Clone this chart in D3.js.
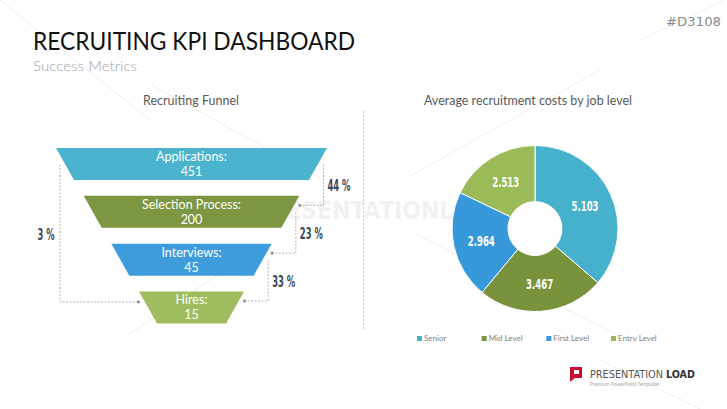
<!DOCTYPE html>
<html><head><meta charset="utf-8">
<script src="https://cdn.jsdelivr.net/npm/d3@7"></script>
<style>body{margin:0;background:#fff}svg{display:block}</style>
</head><body>
<script>
// ---- data ----
const stages = ["Applications:", "Selection Process:", "Interviews:", "Hires:"];
const stageValues = [451, 200, 45, 15];
const stageColors = ["#46B1CC", "#78933B", "#3799DA", "#9BBB59"];
const stepRates = ["44 %", "23 %", "33 %"];
const overallRate = "3 %";
const levels = ["Senior", "Mid Level", "First Level", "Entry Level"];
const costs = [5.103, 3.467, 2.964, 2.513];
const costLabels = ["5.103", "3.467", "2.964", "2.513"];
const levelColors = ["#46B1CC", "#78933B", "#3799DA", "#9BBB59"];

const W = 727, H = 409;
const svg = d3.select("body").append("svg").attr("width", W).attr("height", H);
const cond = "'DejaVu Sans Condensed','Liberation Sans Narrow',sans-serif";
const body = "Lato,'Open Sans',sans-serif";

// faint watermark lines
const wm = svg.append("g").attr("stroke", "#eeeeee").attr("stroke-width", 1);
[[0,0,150,120],[150,84,320,178],[410,176,600,70],[415,234,620,336],[128,335,225,270],[640,40,725,0],[600,360,700,409]]
  .forEach(l => wm.append("line").attr("x1",l[0]).attr("y1",l[1]).attr("x2",l[2]).attr("y2",l[3]));

// header
svg.append("text").attr("x", 33).attr("y", 50).attr("font-family", body).attr("font-size", 25)
  .attr("fill", "#111").attr("textLength", 322).attr("lengthAdjust", "spacingAndGlyphs")
  .text("RECRUITING KPI DASHBOARD");
svg.append("text").attr("x", 33).attr("y", 71).attr("font-family", body).attr("font-size", 14).attr("font-weight", 300)
  .attr("fill", "#a0a0a0").attr("textLength", 104).attr("lengthAdjust", "spacingAndGlyphs").text("Success Metrics");
svg.append("text").attr("x", 721).attr("y", 26).attr("text-anchor", "end").attr("font-family", cond)
  .attr("font-size", 13).attr("fill", "#8a8a8a").attr("textLength", 55).attr("lengthAdjust", "spacingAndGlyphs").text("#D3108");

// section titles
svg.append("text").attr("x", 191).attr("y", 105).attr("text-anchor", "middle").attr("font-family", body)
  .attr("font-size", 12.5).attr("fill", "#595959").text("Recruiting Funnel");
svg.append("text").attr("x", 528).attr("y", 105).attr("text-anchor", "middle").attr("font-family", body)
  .attr("font-size", 12.5).attr("fill", "#595959").text("Average recruitment costs by job level");

// divider
svg.append("line").attr("x1", 363.5).attr("x2", 363.5).attr("y1", 111).attr("y2", 329)
  .attr("stroke", "#c8c8c8").attr("stroke-dasharray", "2,2");

// watermark text (behind labels)
const wt = svg.append("g").attr("opacity", 0.28);
wt.append("rect").attr("x", 212).attr("y", 196).attr("width", 27).attr("height", 22).attr("rx", 5).attr("fill", "#d0d0d0");
wt.append("text").attr("x", 253).attr("y", 219).attr("font-family", cond).attr("font-weight", "bold")
  .attr("font-size", 25).attr("fill", "#d0d0d0").attr("textLength", 253).attr("lengthAdjust", "spacingAndGlyphs")
  .text("PRESENTATIONLOAD");

// ---- funnel ----
const cx = 191.5;
const y = d3.scaleBand().domain(stages).range([148, 323.5]).paddingInner(0.33).paddingOuter(0);
const topW = d3.scaleLinear().domain([0, stages.length - 1]).range([271, 105]);
const inset = 18;
const bw = y.bandwidth();
const fun = svg.append("g");
stages.forEach((s, i) => {
  const t = y(s), w = topW(i);
  const pts = [[cx - w/2, t], [cx + w/2, t], [cx + w/2 - inset, t + bw], [cx - w/2 + inset, t + bw]];
  fun.append("path").attr("d", d3.line()(pts) + "Z").attr("fill", stageColors[i]).attr("fill-opacity", 0.97);
  fun.append("text").attr("x", cx).attr("y", t + 13).attr("text-anchor", "middle")
    .attr("font-family", body).attr("font-size", 12.5).attr("fill", "#fff").text(s);
  fun.append("text").attr("x", cx).attr("y", t + 28).attr("text-anchor", "middle")
    .attr("font-family", body).attr("font-size", 12.5).attr("fill", "#fff").text(stageValues[i]);
});

const con = svg.append("g");
function connector(pathD, dx, dy) {
  con.append("path").attr("d", pathD).attr("fill", "none").attr("stroke", "#b5b5b5")
    .attr("stroke-width", 1).attr("stroke-dasharray", "2,1.5");
  con.append("circle").attr("cx", dx).attr("cy", dy).attr("r", 1.6).attr("fill", "#999");
}
stepRates.forEach((r, i) => {
  const xv = cx + topW(i)/2 - 3.5;
  const y1 = y(stages[i]) + 16.5;
  const y2 = y(stages[i+1]) + 9.5;
  const xd = cx + topW(i+1)/2 + 0.5;
  connector(`M${xv},${y1}V${y2}H${xd}`, xd, y2);
  con.append("text").attr("x", xv + 4).attr("y", (y1 + y2)/2 + 6).attr("font-family", cond)
    .attr("font-weight", "bold").attr("font-size", 15).attr("fill", "#3b4658")
    .attr("textLength", 23).attr("lengthAdjust", "spacingAndGlyphs").text(r);
});
{
  const xv = cx - topW(0)/2 + 4;
  const y1 = y(stages[0]) + 16.5;
  const y2 = y(stages[3]) + 10.5;
  const xd = cx - topW(3)/2 - 0.5;
  connector(`M${xv},${y1}V${y2}H${xd}`, xd, y2);
  con.append("text").attr("x", xv - 5.5).attr("y", (y1 + y2)/2 + 7).attr("text-anchor", "end")
    .attr("font-family", cond).attr("font-weight", "bold").attr("font-size", 15)
    .attr("fill", "#3b4658").attr("textLength", 17).attr("lengthAdjust", "spacingAndGlyphs").text(overallRate);
}

// ---- donut ----
const dc = [535, 228.5];
const pie = d3.pie().sort(null).value(d => d)(costs);
const arc = d3.arc().innerRadius(27).outerRadius(83);
const dg = svg.append("g").attr("transform", `translate(${dc[0]},${dc[1]})`);
dg.selectAll("path").data(pie).join("path").attr("d", arc)
  .attr("fill", (d, i) => levelColors[i]).attr("stroke", "#fff").attr("stroke-width", 1);
dg.selectAll("text").data(pie).join("text")
  .attr("transform", d => `translate(${arc.centroid(d)})`).attr("text-anchor", "middle").attr("dy", "0.36em")
  .attr("font-family", cond).attr("font-weight", "bold").attr("font-size", 14.5).attr("fill", "#fff")
  .attr("textLength", 27).attr("lengthAdjust", "spacingAndGlyphs")
  .text((d, i) => costLabels[i]);

// legend
const legX = d3.scalePoint().domain(levels).range([417, 611]);
const lg = svg.append("g");
levels.forEach((l, i) => {
  lg.append("rect").attr("x", legX(l)).attr("y", 336).attr("width", 5).attr("height", 5).attr("fill", levelColors[i]);
  lg.append("text").attr("x", legX(l) + 7).attr("y", 341).attr("font-family", body)
    .attr("font-size", 8).attr("fill", "#7f7f7f").text(l);
});

// logo
const logo = svg.append("g");
logo.append("path").attr("d", "M570,367h12v11h-7l-5,4z").attr("fill", "#c8102e");
logo.append("rect").attr("x", 574).attr("y", 370).attr("width", 5).attr("height", 4).attr("fill", "#fff");
logo.append("text").attr("x", 590).attr("y", 378).attr("font-family", cond).attr("font-size", 10.2)
  .attr("fill", "#555").attr("textLength", 73).attr("lengthAdjust", "spacingAndGlyphs").text("PRESENTATION");
logo.append("text").attr("x", 666).attr("y", 378).attr("font-family", cond).attr("font-size", 10.2).attr("font-weight", "bold")
  .attr("fill", "#333").attr("textLength", 29).attr("lengthAdjust", "spacingAndGlyphs").text("LOAD");
logo.append("text").attr("x", 590).attr("y", 385.5).attr("font-family", body).attr("font-size", 5)
  .attr("fill", "#aaa").text("Premium PowerPoint Templates");
</script>
</body></html>
